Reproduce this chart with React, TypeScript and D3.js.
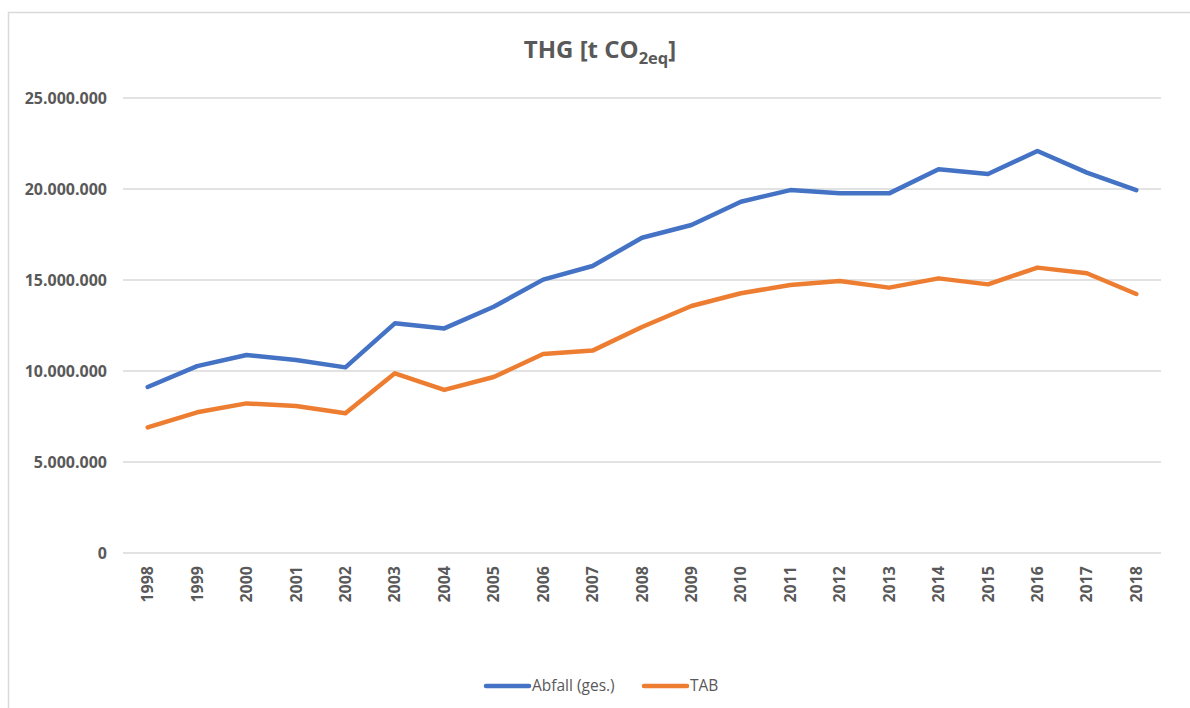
import React from "react";
import * as d3 from "d3";

const years = ["1998","1999","2000","2001","2002","2003","2004","2005","2006","2007","2008","2009","2010","2011","2012","2013","2014","2015","2016","2017","2018"];
const abfall = [9.12,10.27,10.88,10.6,10.2,12.62,12.34,13.53,15.02,15.77,17.32,18.02,19.3,19.94,19.76,19.76,21.08,20.82,22.09,20.9,19.94].map(v => v * 1e6);
const tab = [6.9,7.73,8.22,8.08,7.68,9.87,8.96,9.67,10.93,11.12,12.42,13.57,14.27,14.73,14.95,14.58,15.09,14.76,15.68,15.37,14.23].map(v => v * 1e6);
const yTicks = [0, 5e6, 10e6, 15e6, 20e6, 25e6];
const seriesNames = ["Abfall (ges.)", "TAB"];
const colors = ["#4472C4", "#ED7D31"];

const fmt = (v: number) => (v === 0 ? "0" : d3.format(",")(v).replace(/,/g, "."));

export default function App() {
  const W = 1190, H = 708;
  const x = d3.scaleBand<string>().domain(years).range([123, 1161]);
  const y = d3.scaleLinear().domain([0, 25e6]).range([553, 98]);
  const font = "'Open Sans', sans-serif";
  const grey = "#595959";
  const line = d3.line<number>().x((_, i) => (x(years[i]) as number) + x.bandwidth() / 2).y(d => y(d));
  const series = [abfall, tab];
  return (
    <svg width={W} height={H} style={{ position: "absolute", left: 0, top: 0, background: "#fff" }} fontFamily={font}>
      <rect x={8.5} y={12.5} width={1200} height={720} fill="#fff" stroke="#d9d9d9" strokeWidth={1.5} />
      <text x={600} y={58} textAnchor="middle" fontSize={24} fontWeight="bold" fill={grey}>
        THG [t CO<tspan fontSize={16.5} dy={6}>2eq</tspan><tspan dy={-6}>]</tspan>
      </text>
      {yTicks.map(t => (
        <g key={t}>
          <line x1={123} x2={1161} y1={y(t)} y2={y(t)} stroke="#d9d9d9" strokeWidth={1.5} />
          <text x={107} y={y(t)} dy="0.35em" textAnchor="end" fontSize={16} fontWeight="bold" fill={grey}>{fmt(t)}</text>
        </g>
      ))}
      {years.map(yr => (
        <text key={yr} transform={`translate(${(x(yr) as number) + x.bandwidth() / 2},566) rotate(-90)`} dy="0.35em" textAnchor="end" fontSize={16} fontWeight="bold" fill={grey}>{yr}</text>
      ))}
      {series.map((s, i) => (
        <path key={i} d={line(s) || ""} fill="none" stroke={colors[i]} strokeWidth={4.5} strokeLinecap="round" strokeLinejoin="round" />
      ))}
      {seriesNames.map((n, i) => {
        const lx = i === 0 ? 486 : 644;
        return (
          <g key={n}>
            <line x1={lx} x2={lx + 43} y1={686} y2={686} stroke={colors[i]} strokeWidth={4.5} strokeLinecap="round" />
            <text x={lx + 46} y={686} dy="0.35em" fontSize={15.5} fill={grey}>{n}</text>
          </g>
        );
      })}
    </svg>
  );
}
